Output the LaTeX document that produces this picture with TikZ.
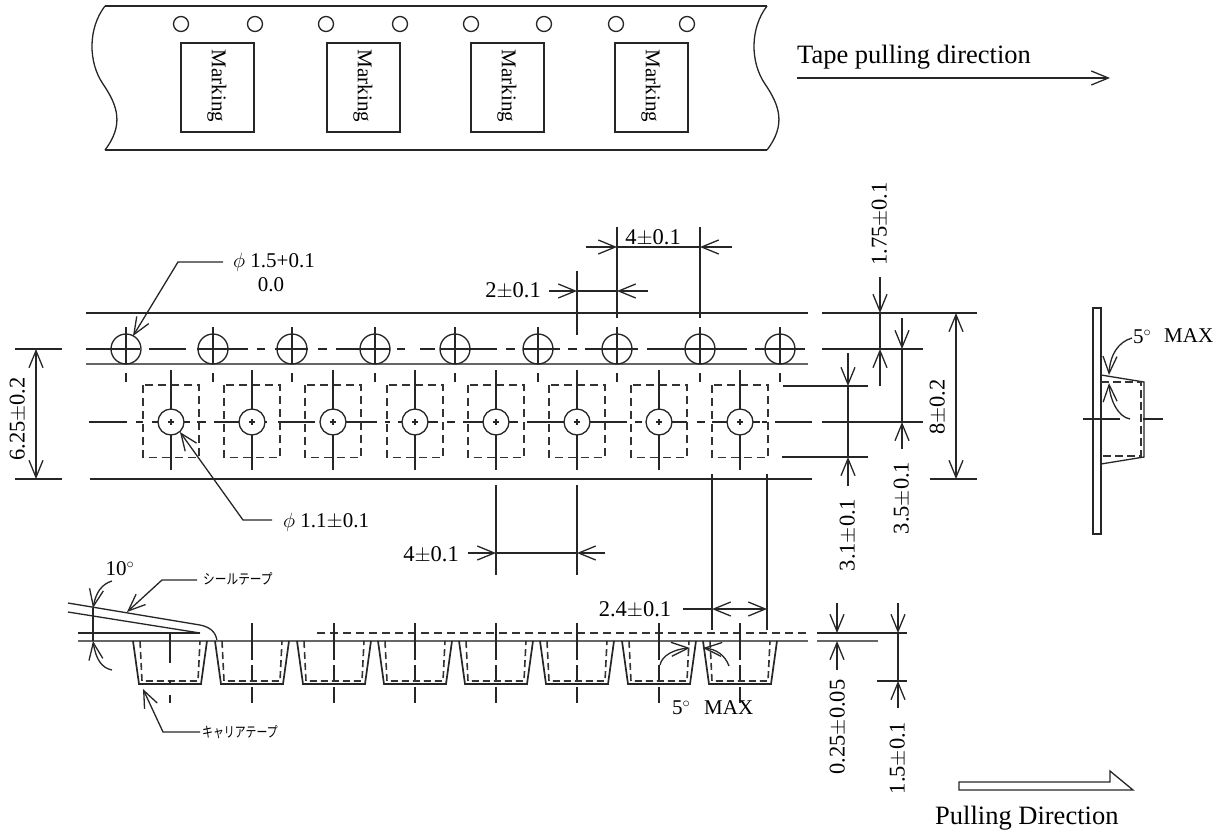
\documentclass[tikz,border=0pt]{standalone}
\usepackage{fontspec}
\setmainfont{Liberation Serif}
\newfontfamily\cjk{Noto Sans CJK JP}
\usetikzlibrary{arrows.meta}
\tikzset{
  ln/.style={draw=black!85,line width=1.3pt},
  pk/.style={draw=black!85,line width=1.7pt},
  thk/.style={draw=black!60,line width=2pt},
  dsh/.style={draw=black!80,line width=1.3pt,dash pattern=on 8pt off 5pt},
  oa/.style={-{Straight Barb[length=17pt,width=14pt,line width=1.3pt]}},
  lbl/.style={font=\fontsize{22.5}{24}\selectfont,inner sep=0pt,text=black},
  mk/.style={font=\fontsize{21}{23}\selectfont,inner sep=0pt,text=black},
  vlbl/.style={lbl,rotate=90},
  big/.style={font=\fontsize{26.5}{28}\selectfont,inner sep=0pt,text=black},
  cj/.style={font=\cjk\fontsize{13}{15}\selectfont,inner sep=0pt,text=black,xscale=.9,yscale=1.1},
}
\begin{document}
\begin{tikzpicture}[x=1pt,y=-1pt]
\useasboundingbox (0,0) rectangle (1217,836);
% ---- top tape
\draw[ln] (105,6) -- (767,6);
\draw[ln] (105,150) -- (767,150);
\draw[ln] (105,6) .. controls (88,28) and (88,62) .. (103,84) .. controls (118,106) and (124,125) .. (105,150);
\draw[ln] (767,6) .. controls (750,28) and (750,62) .. (765,84) .. controls (780,106) and (786,125) .. (767,150);
\foreach \x in {181,255,326,400,471,544,616,687} \draw[ln] (\x,24) circle (7.5);
\foreach \x in {181,327,471,615} {
  \draw[ln] (\x,43) rectangle +(73,89);
  \node[mk,rotate=-90] at (\x+36,86) {Marking};
}
\node[big,anchor=west] (tp) at (797,57) {Tape pulling direction};
\coordinate (ta) at (797,78); \coordinate (tb) at (1110,78);
\draw[ln,oa] (ta) -- (tb);
% ---- plan view long lines
\draw[ln] (86,313) -- (808,313) (822,313) -- (977,313);
\draw[thk] (86,364) -- (808,364);
\draw[ln] (90,479) -- (812,479) (930,479) -- (977,479);
\draw[ln] (15,349) -- (62,349) (15,479) -- (62,479);
\foreach \a/\b in {86/140,149/186,197/248,257/265,275/308,318/327,336/390,397/405,420/435,440/497,506/515,523/560,568/577,585/638,647/747,755/805,822/923}
  \draw[ln] (\a,349) -- (\b,349);
\foreach \x in {126,213,292,375,455,538,617,700,780} {
  \draw[ln] (\x,349) circle (15);
  \draw[ln] (\x,327) -- (\x,364) (\x,373) -- (\x,382);
}
\foreach \a/\b in {89/127,136/143,152/190,197/206,214/267,278/315,323/377,385/390,398/438,447/455,463/518,527/627,635/642,650/687,697/705,712/760,762/767,775/812,822/923}
  \draw[ln] (\a,422) -- (\b,422);
\foreach \x in {171,252,333,415,496,577,659,740} {
  \draw[dsh] (\x-28,385) rectangle (\x+28,457.5);
  \draw[ln,fill=white] (\x,422) circle (13);
  \draw[ln] (\x,370) -- (\x,409) (\x,435) -- (\x,470) (\x-3,422) -- (\x+3,422) (\x,419) -- (\x,425);
}
\draw[ln] (783,386) -- (868,386) (782,457) -- (868,457);
% leaders
\coordinate (pa) at (223,262); \coordinate (pb) at (178,262); \coordinate (pc) at (133,336);
\draw[ln,oa] (pa) -- (pb) -- (pc);
\node[mk,anchor=west] (ph1) at (233,262) {$\phi$ 1.5+0.1};
\node[mk] (ph2) at (271,285) {0.0};
\coordinate (qa) at (272,520); \coordinate (qb) at (243,520); \coordinate (qc) at (180,432);
\draw[ln,oa] (qa) -- (qb) -- (qc);
\node[mk,anchor=west] (ph3) at (283,522) {$\phi$ 1.1$\pm$0.1};
% left 6.25
\draw[ln,oa] (36,410) -- (36,349);
\draw[ln,oa] (36,410) -- (36,479);
\node[vlbl] (d625) at (18,419) {6.25$\pm$0.2};
% 4 top
\draw[ln] (617,227) -- (617,318) (700,227) -- (700,318);
\draw[ln,oa] (586,247) -- (617,247);
\draw[ln,oa] (732,247) -- (700,247);
\draw[ln] (617,247) -- (700,247);
\node[lbl] (d4a) at (653,238) {4$\pm$0.1};
% 2
\draw[ln] (577,271) -- (577,335);
\draw[ln,oa] (549,291) -- (577,291);
\draw[ln,oa] (648,291) -- (617,291);
\draw[ln] (577,291) -- (617,291);
\node[lbl] (d2) at (513,291) {2$\pm$0.1};
% 4 lower
\draw[ln] (496,485) -- (496,575) (577,485) -- (577,575);
\draw[ln,oa] (468,553) -- (496,553);
\draw[ln,oa] (605,553) -- (577,553);
\draw[ln] (496,553) -- (577,553);
\node[lbl] (d4b) at (431,555) {4$\pm$0.1};
% 2.4
\draw[ln] (712,474) -- (712,630) (767,474) -- (767,630);
\draw[ln] (683,609) -- (712,609);
\draw[ln,oa] (740,609) -- (712,609);
\draw[ln,oa] (740,609) -- (767,609);
\node[lbl] (d24) at (635,610) {2.4$\pm$0.1};
% right dims
\draw[ln,oa] (880,277) -- (880,313);
\draw[ln,oa] (880,386) -- (880,349);
\draw[ln] (880,313) -- (880,349);
\node[vlbl] (d175) at (880,224) {1.75$\pm$0.1};
\draw[ln,oa] (902,318) -- (902,349);
\draw[ln,oa] (902,449) -- (902,422);
\draw[ln] (902,349) -- (902,422);
\node[vlbl] (d35) at (902,498) {3.5$\pm$0.1};
\draw[ln,oa] (848,353) -- (848,386);
\draw[ln,oa] (848,486) -- (848,457);
\draw[ln] (848,386) -- (848,457);
\node[vlbl] (d31) at (848,535) {3.1$\pm$0.1};
\draw[ln,oa] (956,400) -- (956,313);
\draw[ln,oa] (956,400) -- (956,479);
\node[vlbl] (d8) at (938,407) {8$\pm$0.2};
% ---- side view
\draw[ln] (1093,308) rectangle (1101,534);
\draw[ln] (1101,375) -- (1144,382) -- (1144,457) -- (1101,464);
\draw[dsh,dash pattern=on 8pt off 4pt] (1101,382) -- (1141,382) -- (1141,456) -- (1101,456);
\draw[ln] (1083,419) -- (1120,419) (1143,419) -- (1163,419);
\draw[ln,oa] (1132,338) .. controls (1118,342) and (1110,355) .. (1109,375);
\draw[ln,oa] (1130,419) .. controls (1118,417) and (1110,400) .. (1109,383);
\node[mk,anchor=west] (s5) at (1133,337) {5$^\circ$};
\node[mk,anchor=west] (smax) at (1164,336) {MAX};
% ---- section view
\draw[ln] (68,603) -- (200,625) .. controls (210,627) and (216,632) .. (217,641);
\draw[ln] (68,612) -- (200,633);
\draw[ln] (78,633) -- (200,633);
\draw[dsh] (317,633) -- (810,633);
\draw[ln] (817,633) -- (907,633);
\draw[thk] (78,641) -- (808,641) (817,641) -- (878,641);
\foreach \x in {170,252,334,415,496,577,659,740} {
  \draw[pk] (\x-37,641) -- (\x-31,684) -- (\x+31,684) -- (\x+37,641);
  \draw[dsh,line width=1.6pt,dash pattern=on 7pt off 4pt] (\x-30,641) -- (\x-28,681) -- (\x+28,681) -- (\x+30,641);
}
\draw[ln] (170,633) -- (170,663) (170,680) -- (170,685) (170,695) -- (170,703);
\foreach \x in {252,334,415,496,577,659,740}
  \draw[ln] (\x,623) -- (\x,660) (\x,665) -- (\x,680) (\x,687) -- (\x,703);
% 10 deg
\draw[ln] (93,608) -- (93,641);
\draw[ln,oa] (112,581) .. controls (102,584) and (96,592) .. (93,608);
\draw[ln,oa] (112,670) .. controls (102,668) and (96,660) .. (93,641);
\node[mk] (d10) at (120,569) {10$^\circ$};
% seal / carrier
\coordinate (sa) at (197,580); \coordinate (sb) at (162,580); \coordinate (sc) at (127,612);
\draw[ln,oa] (sa) -- (sb) -- (sc);
\node[cj,anchor=west] (seal) at (203,579) {シールテープ};
\coordinate (ca) at (200,732); \coordinate (cb) at (163,732); \coordinate (cc) at (143,689);
\draw[ln,oa] (ca) -- (cb) -- (cc);
\node[cj,anchor=west,xscale=.93] (carr) at (202,732) {キャリアテープ};
% 5 deg bottom
\draw[ln,oa] (660,665) .. controls (662,655) and (675,649) .. (690,648);
\draw[ln,oa] (729,666) .. controls (725,655) and (716,649) .. (703,648);
\node[mk,anchor=west] (b5) at (672,708) {5$^\circ$};
\node[mk,anchor=west] (bmax) at (704,708) {MAX};
% thickness dims
\draw[ln,oa] (837,603) -- (837,633);
\draw[ln,oa] (837,670) -- (837,641);
\node[vlbl] (d025) at (838,727) {0.25$\pm$0.05};
\draw[ln,oa] (898,603) -- (898,633);
\draw[ln,oa] (898,708) -- (898,681);
\draw[ln] (898,633) -- (898,681);
\draw[ln] (877,681) -- (907,681);
\node[vlbl] (d15) at (898,758) {1.5$\pm$0.1};
% pulling
\draw[ln] (959,782) -- (1110,782) -- (1110,771) -- (1133,790) -- (959,790) -- cycle;
\node[big,anchor=west] (pd) at (935,818) {Pulling Direction};
\end{tikzpicture}
\end{document}
